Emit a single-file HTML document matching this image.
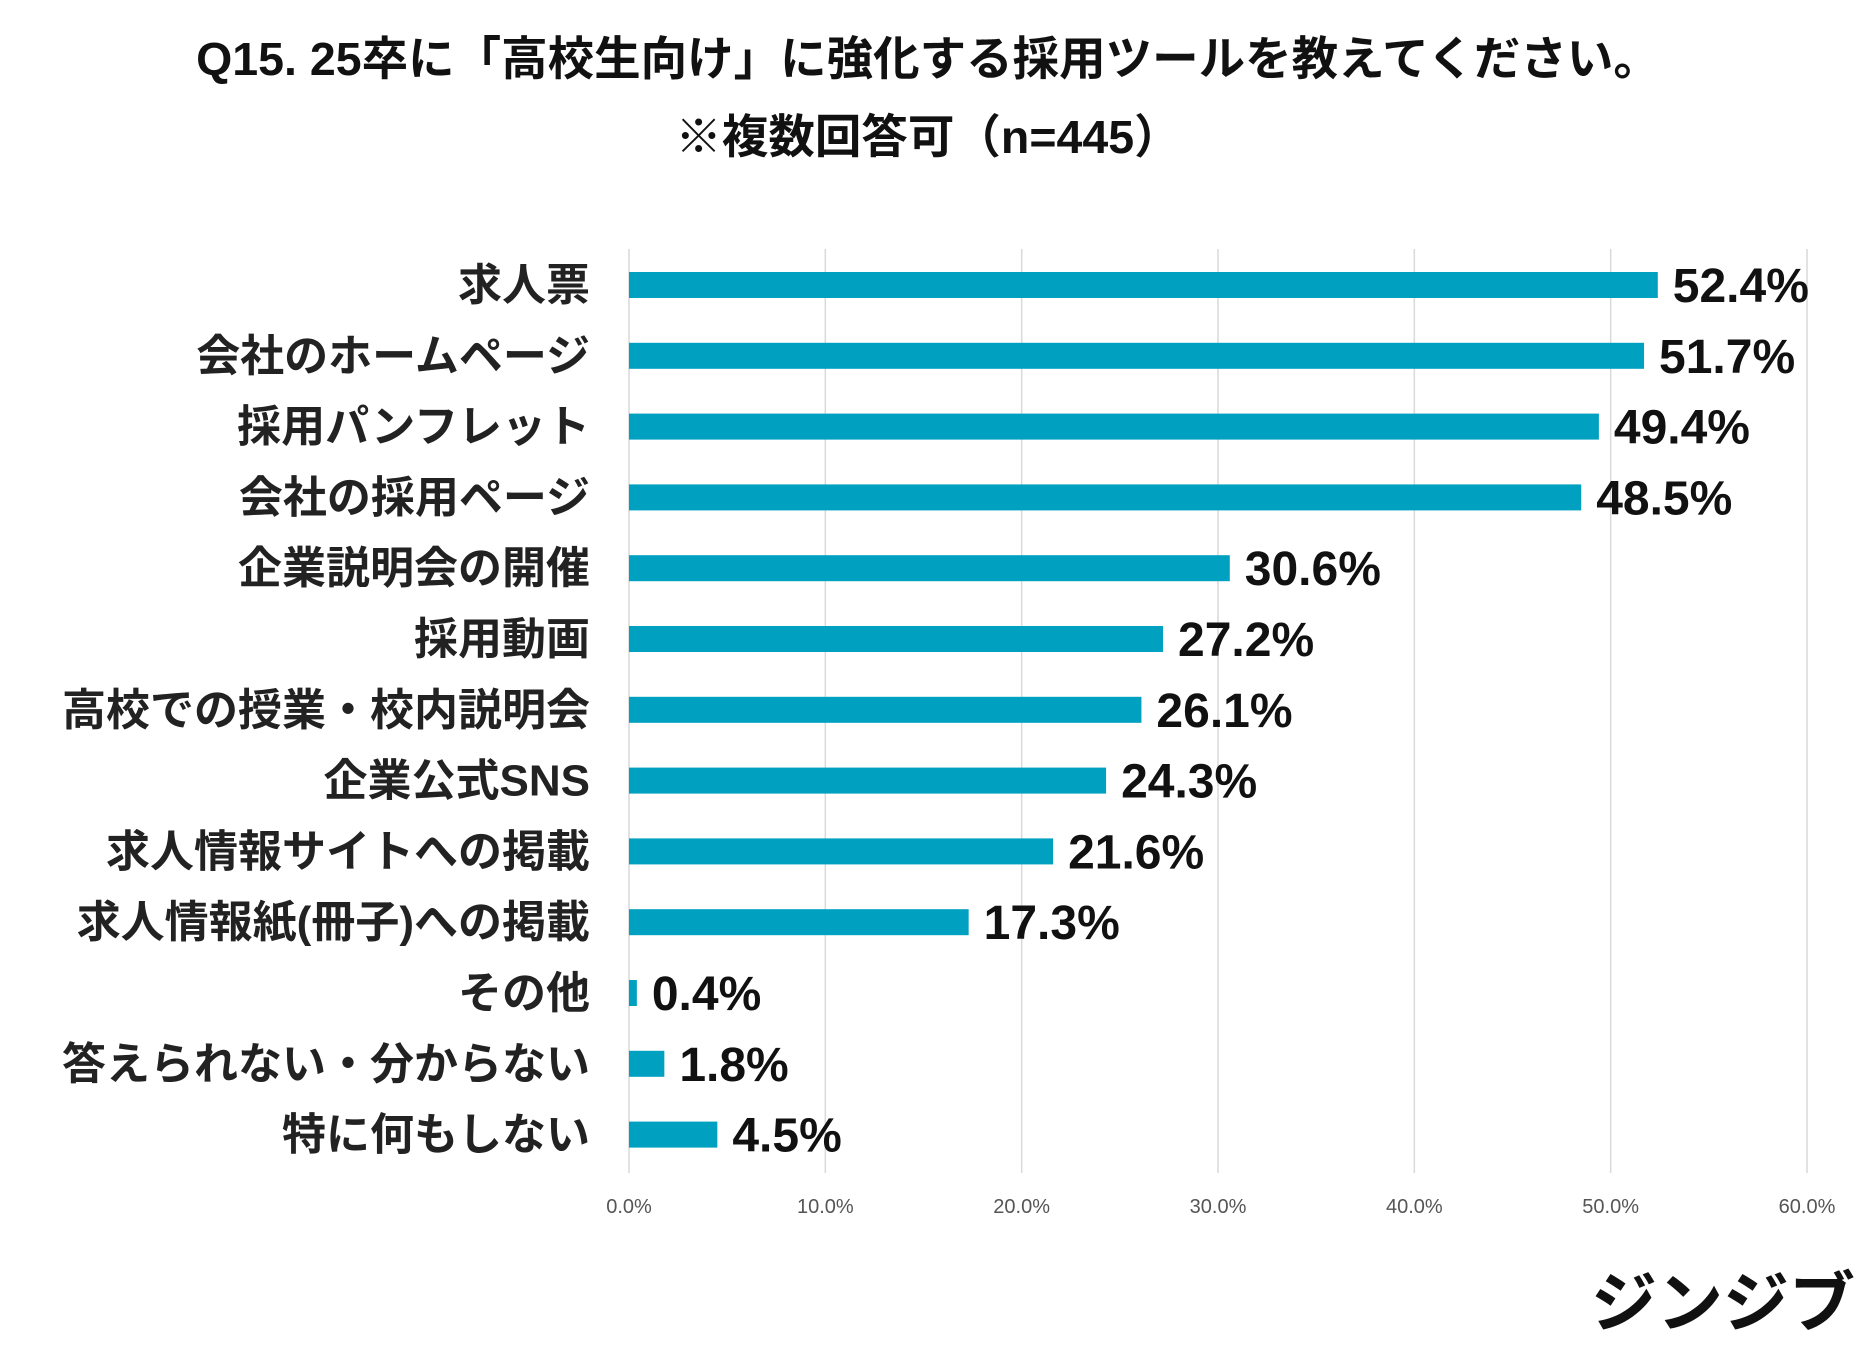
<!DOCTYPE html>
<html><head><meta charset="utf-8"><style>
body{margin:0;background:#fff;width:1868px;height:1350px;overflow:hidden;font-family:"Liberation Sans","Noto Sans CJK JP",sans-serif}
</style></head><body>
<svg id="c" width="1868" height="1350" xmlns="http://www.w3.org/2000/svg">
<text x="928" y="75" text-anchor="middle" font-size="46.5" font-weight="bold" fill="#111">Q15. 25卒に「高校生向け」に強化する採用ツールを教えてください。</text>
<text x="928" y="153" text-anchor="middle" font-size="46.5" font-weight="bold" fill="#111">※複数回答可（n=445）</text>
<g id="grid"></g><g id="bars"></g>
<text x="1855" y="1326" text-anchor="end" font-size="66" font-weight="bold" fill="#111">ジンジブ</text>
</svg>
<script>
const categories=["求人票","会社のホームページ","採用パンフレット","会社の採用ページ","企業説明会の開催","採用動画","高校での授業・校内説明会","企業公式SNS","求人情報サイトへの掲載","求人情報紙(冊子)への掲載","その他","答えられない・分からない","特に何もしない"];
const values=[52.4,51.7,49.4,48.5,30.6,27.2,26.1,24.3,21.6,17.3,0.4,1.8,4.5];
const ticks=[0,10,20,30,40,50,60];
const NS="http://www.w3.org/2000/svg";
const x0=629,x1=1807,xmax=60,yTop=249,yBottom=1173,row0=285,rowStep=70.8,bh=26;
const xs=v=>x0+(x1-x0)*v/xmax;
const ys=i=>row0+i*rowStep;
function mk(t,a,p){const e=document.createElementNS(NS,t);for(const k in a)e.setAttribute(k,a[k]);p.appendChild(e);return e;}
const g=document.getElementById('grid'),b=document.getElementById('bars');
ticks.forEach(t=>{
 const l=mk('line',{x1:xs(t),x2:xs(t),y1:yTop,y2:yBottom,stroke:'#d9d9d9','stroke-width':1.5},g);
 
 
 const tx=mk('text',{x:xs(t),y:1213,'text-anchor':'middle','font-size':20,fill:'#555'},g);
 tx.textContent=t.toFixed(1)+'%';
 
 
});
categories.forEach((c,i)=>{
 const y=ys(i);
 const lb=mk('text',{x:590,y:y+15,'text-anchor':'end','font-size':44,'font-weight':'bold',fill:'#222'},b);
 lb.textContent=c;
 
 
 const r=mk('rect',{x:x0,y:y-bh/2,width:xs(values[i])-x0,height:bh,fill:'#00a0c0'},b);
 
 
 const v=mk('text',{x:xs(values[i])+15,y:y+17,'font-size':48,'font-weight':'bold',fill:'#111'},b);
 v.textContent=values[i].toFixed(1)+'%';
 
 
});
</script>
</body></html>
